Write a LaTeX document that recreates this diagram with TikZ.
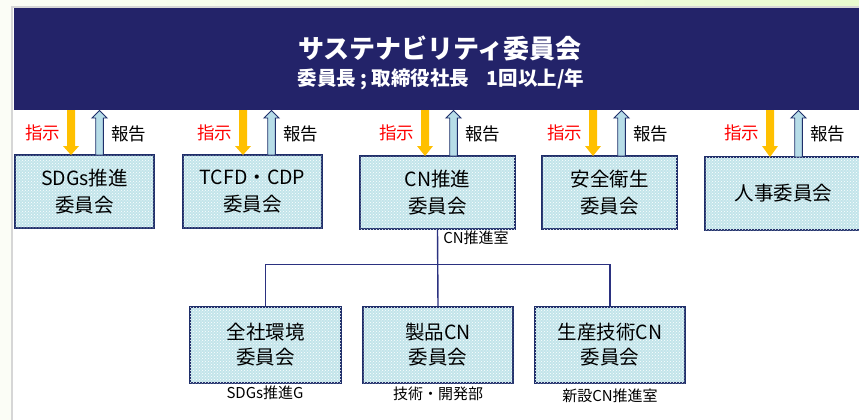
\documentclass[tikz,border=0pt]{standalone}
\usepackage{fontspec}
\setmainfont{Noto Sans CJK JP}
\usetikzlibrary{patterns}
\definecolor{navy}{HTML}{232369}
\definecolor{boxline}{HTML}{1F2F6A}
\definecolor{boxfill}{HTML}{C2E4EA}
\definecolor{upfill}{HTML}{B7DDE8}
\definecolor{gold}{HTML}{FFC000}
\definecolor{treeline}{HTML}{2B3180}
\definecolor{frame}{HTML}{D6D6D6}
\definecolor{pale}{HTML}{FBFDF6}
\definecolor{lime}{HTML}{E9FBCF}
\tikzset{
  box/.style={draw=boxline, line width=1.3pt, fill=boxfill,
    postaction={pattern=crosshatch dots, pattern color=white},
    align=center, inner sep=0pt, font=\fontsize{19.5}{27}\selectfont},
  lowbox/.style={box, minimum width=150pt, minimum height=76pt, font=\fontsize{19.5}{25}\selectfont},
  topbox/.style={box, minimum height=73pt},
  cmd/.style={text=red, font=\fontsize{17.5}{19}\selectfont, inner sep=0pt},
  rep/.style={text=black, font=\fontsize{17.5}{19}\selectfont, inner sep=0pt},
  note/.style={font=\fontsize{15}{17}\selectfont, inner sep=0pt},
  tree/.style={draw=treeline, line width=1.4pt},
  downarr/.style={fill=gold},
  uparr/.style={fill=upfill, draw=boxline, line width=0.9pt, line join=miter},
}
\begin{document}
\begin{tikzpicture}[x=1pt,y=-1pt]
\useasboundingbox (0,0) rectangle (859,420);
% background
\fill[pale] (0,0) rectangle (859,420);
\shade[left color=pale, right color=lime] (0,0) rectangle (859,7);
\fill[white] (12,7) rectangle (859,420);
\draw[frame, line width=2pt] (12,420) -- (12,7) -- (859,7);
% banner
\node[fill=navy, minimum width=845pt, minimum height=102pt, anchor=north west, inner sep=0pt] (banner) at (14,8) {};
\node[text=white, font=\bfseries\fontsize{26}{28}\selectfont, inner sep=0pt] (title) at (440,48) {サステナビリティ委員会};
\node[text=white, font=\bfseries\fontsize{19.5}{21}\selectfont, inner sep=0pt] (sub) at (441,79) {委員長 ; 取締役社長\hspace{0.9em}1回以上/年};
% top boxes
\node[topbox, minimum width=139pt] (b1) at (84.5,191.5) {SDGs推進\\委員会};
\node[topbox, minimum width=139pt] (b2) at (252.5,191.5) {TCFD・CDP\\委員会};
\node[topbox, minimum width=155pt] (b3) at (437.5,192.5) {CN推進\\委員会};
\node[topbox, minimum width=135pt] (b4) at (609.5,192.5) {安全衛生\\委員会};
\begin{scope}
\clip (0,0) rectangle (859,420);
\node[topbox, minimum width=157pt] (b5) at (783.5,193.5) {人事委員会};
\end{scope}
% arrows and labels
\foreach \c/\t [count=\i] in {71/155, 243/155, 425/156, 593/156, 770/157}{
  \fill[downarr] (\c-4,110) -- (\c+4,110) -- (\c+4,146) -- (\c+8,146) -- (\c,\t) -- (\c-8,146) -- (\c-4,146) -- cycle;
  \pgfmathsetmacro{\u}{\c+28.5}
  \draw[uparr] (\u-3.8,\t) -- (\u+3.8,\t) -- (\u+3.8,118) -- (\u+7.5,118) -- (\u,110.5) -- (\u-7.5,118) -- (\u-3.8,118) -- cycle;
  \node[cmd] (s\i) at (\c-28.5,133) {指示};
  \node[rep] (r\i) at (\c+57.5,133.5) {報告};
}
% bottom boxes
\node[lowbox, minimum width=151pt] (c1) at (265.5,345) {全社環境\\委員会};
\node[lowbox] (c2) at (438,345) {製品CN\\委員会};
\node[lowbox] (c3) at (610,345) {生産技術CN\\委員会};
% tree
\draw[tree] (b3.south) -- (c2.north);
\draw[tree] (c1.north) -- ++(0,-42) -| (c3.north);
% notes
\node[note] (n0) at (476,238) {CN推進室};
\node[note] (n1) at (265,393) {SDGs推進G};
\node[note] (n2) at (438,394) {技術・開発部};
\node[note] (n3) at (610,396) {新設CN推進室};
\end{tikzpicture}
\end{document}
